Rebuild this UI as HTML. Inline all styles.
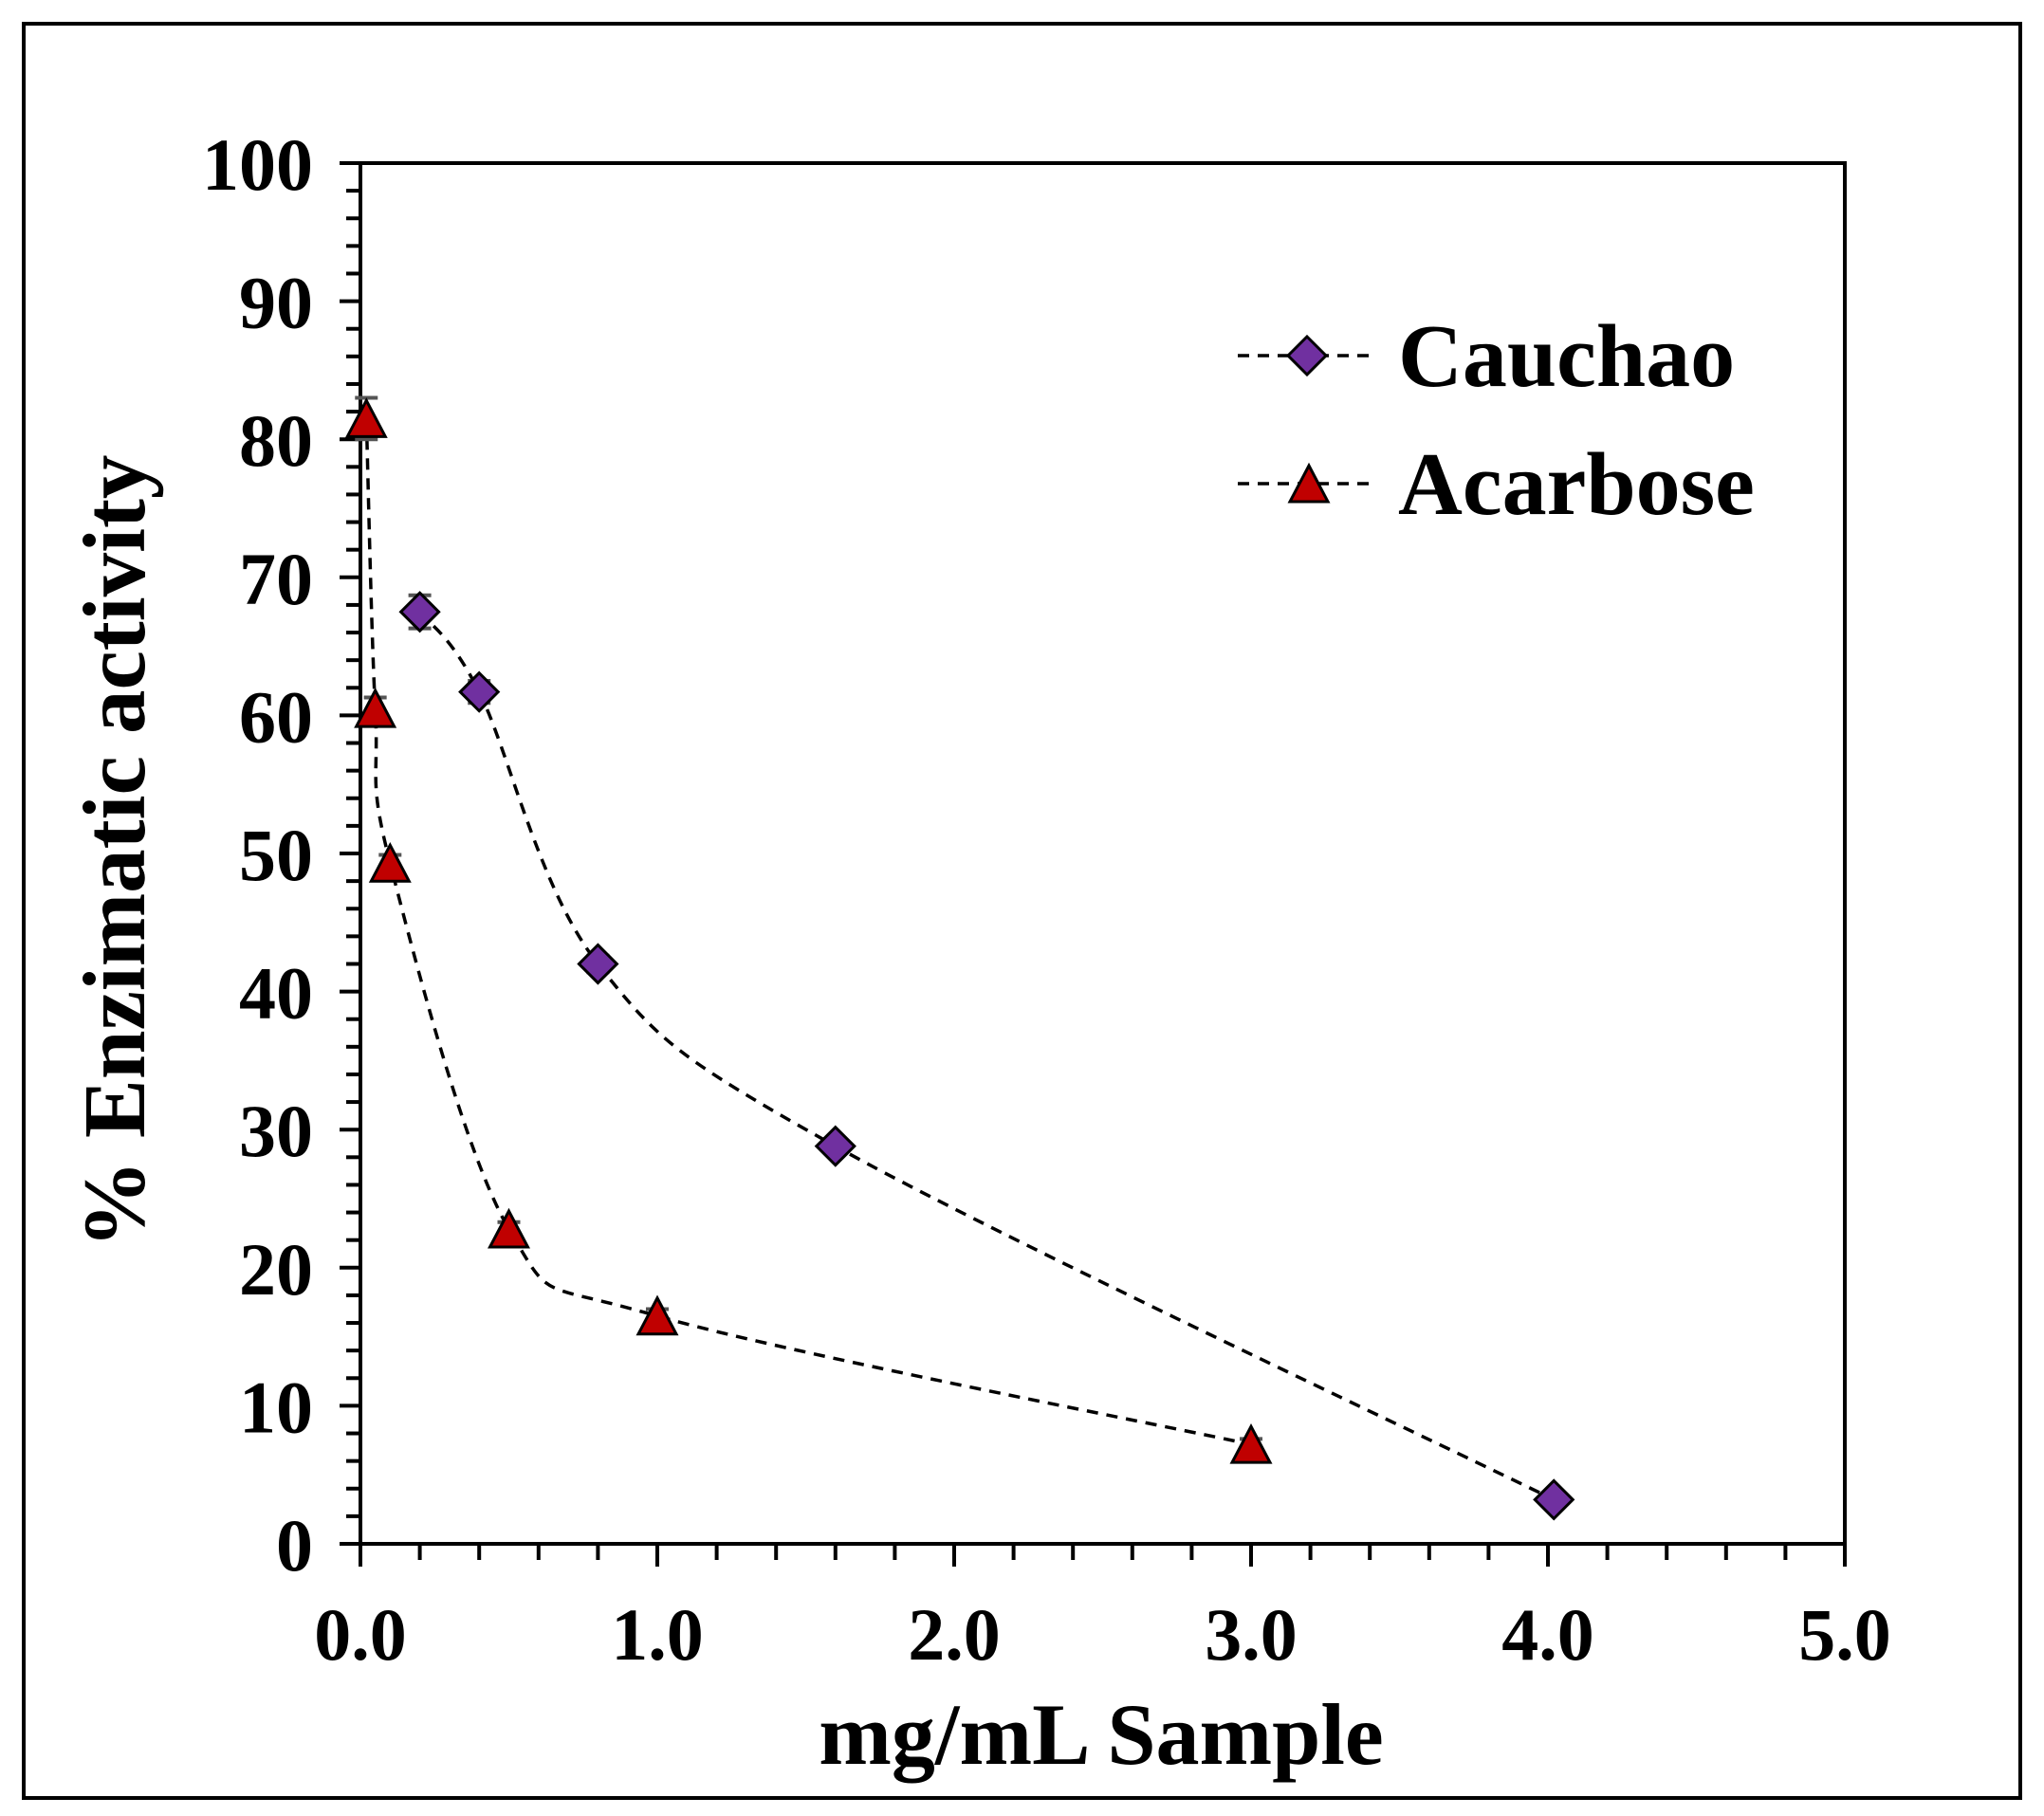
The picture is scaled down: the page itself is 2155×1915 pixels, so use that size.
<!DOCTYPE html>
<html><head><meta charset="utf-8"><style>
html,body{margin:0;padding:0;background:#fff;}
svg{display:block;font-family:"Liberation Serif",serif;font-weight:bold;}
</style></head><body>
<svg width="2155" height="1915" viewBox="0 0 2155 1915">
<rect x="25" y="25" width="2105" height="1871" fill="#fff" stroke="#000" stroke-width="4"/>
<g id="axes"></g>
<g id="series"></g>
<text x="1161" y="1860" font-size="92" text-anchor="middle">mg/mL Sample</text>
<text transform="translate(152,898) rotate(-90)" font-size="93" text-anchor="middle">% Enzimatic activity</text>
<g>
 <g>
  <line x1="1305" y1="375" x2="1443" y2="375" stroke="#000" stroke-width="3.5" stroke-dasharray="12,9"/>
  <polygon points="1378,355 1398,375 1378,395 1358,375" fill="#7030a0" stroke="#000" stroke-width="3"/>
  <text x="1474" y="407" font-size="94">Cauchao</text>
 </g>
 <g>
  <line x1="1305" y1="510" x2="1443" y2="510" stroke="#000" stroke-width="3.5" stroke-dasharray="12,9"/>
  <polygon points="1380,491 1400,529 1360,529" fill="#c00000" stroke="#000" stroke-width="3"/>
  <text x="1474" y="542" font-size="94">Acarbose</text>
 </g>
</g>
</svg>
<script>
const cauchaoX=[0.2,0.4,0.8,1.6,4.02];
const cauchaoY=[67.5,61.7,42,28.8,3.2];
const cauchaoErr=[1.2,0.8,0.6,0.5,0.4];
const acarboseX=[0.02,0.05,0.1,0.5,1.0,3.0];
const acarboseY=[81.5,60.5,49.3,22.8,16.5,7.2];
const acarboseErr=[1.5,0.8,0.6,0.5,0.5,0.4];
const xTicks=["0.0","1.0","2.0","3.0","4.0","5.0"];
const yTicks=["0","10","20","30","40","50","60","70","80","90","100"];

const NS="http://www.w3.org/2000/svg";
const X0=380,X1=1945,Y0=1628,Y1=172;
const sx=v=>X0+(v/5)*(X1-X0);
const sy=v=>Y0-(v/100)*(Y0-Y1);
function mk(tag,attrs,parent){const e=document.createElementNS(NS,tag);for(const k in attrs)e.setAttribute(k,attrs[k]);parent.appendChild(e);return e;}
const axes=document.getElementById('axes');
const series=document.getElementById('series');
const fr=mk('rect',{x:X0,y:Y1,width:X1-X0,height:Y0-Y1,fill:'none',stroke:'#000','stroke-width':4},axes);


for(let v=0;v<=100;v+=2){const y=sy(v);const major=v%10===0;
 mk('line',{x1:X0-(major?22:15),y1:y,x2:X0,y2:y,stroke:'#000','stroke-width':4},axes);}
yTicks.forEach(t=>{const el=mk('text',{x:330,y:sy(+t)+28,'font-size':78,'text-anchor':'end'},axes);el.textContent=t;
 
 });
for(let i=0;i<=25;i++){const v=i*0.2;const x=sx(v);const major=i%5===0;
 mk('line',{x1:x,y1:Y0,x2:x,y2:Y0+(major?24:17),stroke:'#000','stroke-width':4},axes);}
xTicks.forEach(t=>{const el=mk('text',{x:sx(+t),y:1750,'font-size':78,'text-anchor':'middle'},axes);el.textContent=t;
 
 });
function smooth(xs,ys){const p=xs.map((x,i)=>[sx(x),sy(ys[i])]);let d=`M${p[0][0]},${p[0][1]}`;
 for(let i=0;i<p.length-1;i++){const p0=p[i-1]||p[i],p1=p[i],p2=p[i+1],p3=p[i+2]||p2;const t=6;
  d+=` C${p1[0]+(p2[0]-p0[0])/t},${p1[1]+(p2[1]-p0[1])/t} ${p2[0]-(p3[0]-p1[0])/t},${p2[1]-(p3[1]-p1[1])/t} ${p2[0]},${p2[1]}`;}
 return d;}
function drawSeries(xs,ys,errs,name,shape){
 const path=mk('path',{d:smooth(xs,ys),fill:'none',stroke:'#000','stroke-width':3.5,'stroke-dasharray':'12,9'},series);
 
 
 xs.forEach((xv,i)=>{const x=sx(xv),y=sy(ys[i]),e=errs[i]*(Y0-Y1)/100;
  mk('line',{x1:x,y1:y-e,x2:x,y2:y+e,stroke:'#555','stroke-width':3},series);
  mk('line',{x1:x-12,y1:y-e,x2:x+12,y2:y-e,stroke:'#555','stroke-width':4},series);
  mk('line',{x1:x-12,y1:y+e,x2:x+12,y2:y+e,stroke:'#555','stroke-width':4},series);
  let m;
  if(shape==='diamond') m=mk('polygon',{points:`${x},${y-20} ${x+20},${y} ${x},${y+20} ${x-20},${y}`,fill:'#7030a0',stroke:'#000','stroke-width':3},series);
  else m=mk('polygon',{points:`${x},${y-19} ${x+20},${y+19} ${x-20},${y+19}`,fill:'#c00000',stroke:'#000','stroke-width':3},series);
  
  
 });
}
drawSeries(cauchaoX,cauchaoY,cauchaoErr,'cauchao','diamond');
drawSeries(acarboseX,acarboseY,acarboseErr,'acarbose','triangle');
</script>
</body></html>
